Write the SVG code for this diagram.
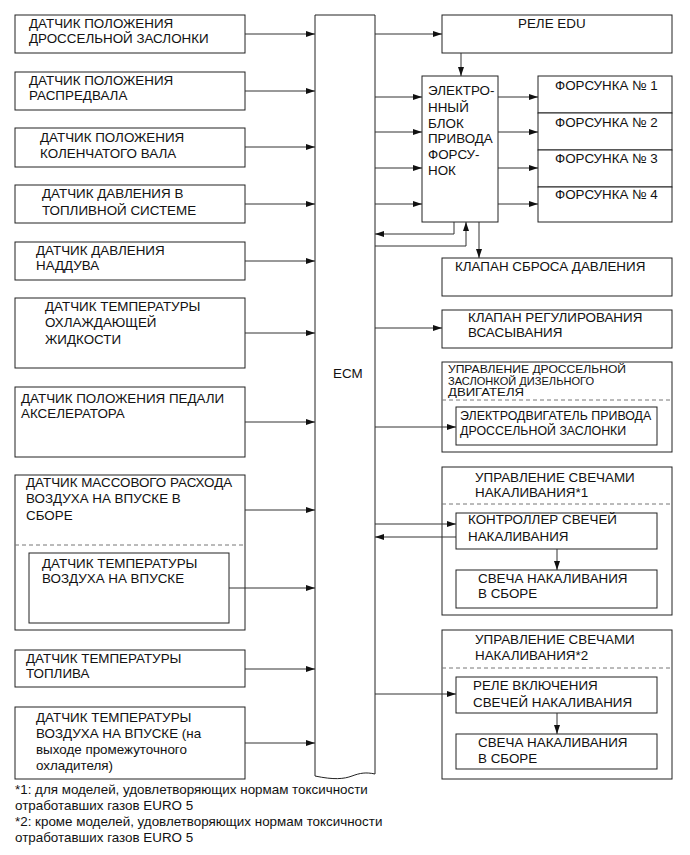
<svg xmlns="http://www.w3.org/2000/svg" width="690" height="855" viewBox="0 0 690 855">
<style>
.b{fill:#fff;stroke:#222;stroke-width:1}
.t{font-family:"Liberation Sans",Arial,sans-serif;font-size:13.4px;fill:#111}
.s{font-family:"Liberation Sans",Arial,sans-serif;font-size:12.4px;fill:#111}
.x{font-family:"Liberation Sans",Arial,sans-serif;font-size:10.5px;fill:#111}
.c{stroke:#333;stroke-width:1;fill:none}
.d{stroke:#777;stroke-width:1;stroke-dasharray:4,3;fill:none}
</style>
<defs>
<marker id="a" markerUnits="userSpaceOnUse" markerWidth="9" markerHeight="7" refX="9" refY="3.5" orient="auto">
<path d="M0,0.5 L9,3.5 L0,6.5 z" fill="#111"/>
</marker>
</defs>
<rect width="690" height="855" fill="#fff"/>

<g id="ecm">
<path class="b" d="M315,15 L375,15 L375,774 C366,772 360,773 352,776 C344,779 334,780 315,776 Z"/>
<text class="t" x="333" y="378">ECM</text>
</g>

<g id="s1"><rect class="b" x="15" y="15" width="230" height="38"/>
<text class="t" x="29" y="28">ДАТЧИК ПОЛОЖЕНИЯ</text><text class="t" x="29" y="43">ДРОССЕЛЬНОЙ ЗАСЛОНКИ</text></g>
<g id="s2"><rect class="b" x="15" y="72" width="230" height="38"/>
<text class="t" x="29" y="85">ДАТЧИК ПОЛОЖЕНИЯ</text><text class="t" x="29" y="100">РАСПРЕДВАЛА</text></g>
<g id="s3"><rect class="b" x="15" y="128" width="230" height="39"/>
<text class="t" x="40" y="142">ДАТЧИК ПОЛОЖЕНИЯ</text><text class="t" x="40" y="158">КОЛЕНЧАТОГО ВАЛА</text></g>
<g id="s4"><rect class="b" x="15" y="185" width="230" height="38"/>
<text class="t" x="42" y="198">ДАТЧИК ДАВЛЕНИЯ В</text><text class="t" x="42" y="215">ТОПЛИВНОЙ СИСТЕМЕ</text></g>
<g id="s5"><rect class="b" x="15" y="242" width="230" height="38"/>
<text class="t" x="36" y="255">ДАТЧИК ДАВЛЕНИЯ</text><text class="t" x="36" y="270">НАДДУВА</text></g>
<g id="s6"><rect class="b" x="15" y="298" width="230" height="70"/>
<text class="t" x="45" y="311">ДАТЧИК ТЕМПЕРАТУРЫ</text><text class="t" x="45" y="327">ОХЛАЖДАЮЩЕЙ</text><text class="t" x="45" y="344">ЖИДКОСТИ</text></g>
<g id="s7"><rect class="b" x="15" y="387" width="230" height="70"/>
<text class="t" x="21" y="403">ДАТЧИК ПОЛОЖЕНИЯ ПЕДАЛИ</text><text class="t" x="21" y="418">АКСЕЛЕРАТОРА</text></g>
<g id="s8"><rect class="b" x="15" y="475" width="230" height="155"/>
<text class="t" x="26" y="487">ДАТЧИК МАССОВОГО РАСХОДА</text><text class="t" x="26" y="503">ВОЗДУХА НА ВПУСКЕ В</text><text class="t" x="26" y="520">СБОРЕ</text>
<line class="d" x1="15" y1="545" x2="245" y2="545"/></g>
<g id="s8i"><rect class="b" x="29" y="553" width="200" height="70"/>
<text class="t" x="42" y="568">ДАТЧИК ТЕМПЕРАТУРЫ</text><text class="t" x="42" y="583">ВОЗДУХА НА ВПУСКЕ</text></g>
<g id="s9"><rect class="b" x="15" y="650" width="230" height="37"/>
<text class="t" x="26" y="663">ДАТЧИК ТЕМПЕРАТУРЫ</text><text class="t" x="26" y="678">ТОПЛИВА</text></g>
<g id="s10"><rect class="b" x="15" y="707" width="230" height="72"/>
<text class="t" x="36" y="722">ДАТЧИК ТЕМПЕРАТУРЫ</text><text class="t" x="36" y="738">ВОЗДУХА НА ВПУСКЕ (на</text><text class="t" x="36" y="754">выходе промежуточного</text><text class="t" x="36" y="770">охладителя)</text></g>

<g id="edu"><rect class="b" x="442" y="15" width="230" height="38"/>
<text class="t" x="518" y="28">РЕЛЕ EDU</text></g>
<g id="edublock"><rect class="b" x="422" y="76" width="76" height="146"/>
<text class="t" x="428" y="95">ЭЛЕКТРО-</text><text class="t" x="428" y="112">ННЫЙ</text><text class="t" x="428" y="128">БЛОК</text><text class="t" x="428" y="143">ПРИВОДА</text><text class="t" x="428" y="159">ФОРСУ-</text><text class="t" x="428" y="175">НОК</text></g>
<g id="inj1"><rect class="b" x="538" y="76" width="134" height="37"/><text class="t" x="555" y="90">ФОРСУНКА № 1</text></g>
<g id="inj2"><rect class="b" x="538" y="113" width="134" height="37"/><text class="t" x="555" y="127">ФОРСУНКА № 2</text></g>
<g id="inj3"><rect class="b" x="538" y="150" width="134" height="37"/><text class="t" x="555" y="163">ФОРСУНКА № 3</text></g>
<g id="inj4"><rect class="b" x="538" y="187" width="134" height="35"/><text class="t" x="555" y="199">ФОРСУНКА № 4</text></g>
<g id="prv"><rect class="b" x="442" y="258" width="230" height="38"/><text class="t" x="455" y="271">КЛАПАН СБРОСА ДАВЛЕНИЯ</text></g>
<g id="scv"><rect class="b" x="442" y="310" width="230" height="38"/>
<text class="t" x="468" y="322">КЛАПАН РЕГУЛИРОВАНИЯ</text><text class="t" x="468" y="337">ВСАСЫВАНИЯ</text></g>
<g id="dtc"><rect class="b" x="442" y="362" width="230" height="90"/>
<text class="x" x="448" y="373" textLength="178" lengthAdjust="spacingAndGlyphs">УПРАВЛЕНИЕ ДРОССЕЛЬНОЙ</text>
<text class="x" x="448" y="384.5" textLength="146" lengthAdjust="spacingAndGlyphs">ЗАСЛОНКОЙ ДИЗЕЛЬНОГО</text>
<text class="x" x="448" y="396" textLength="76" lengthAdjust="spacingAndGlyphs">ДВИГАТЕЛЯ</text>
<line class="d" x1="442" y1="400" x2="672" y2="400"/></g>
<g id="dtm"><rect class="b" x="456" y="407" width="201" height="38"/>
<text class="s" x="460" y="420">ЭЛЕКТРОДВИГАТЕЛЬ ПРИВОДА</text><text class="s" x="460" y="435">ДРОССЕЛЬНОЙ ЗАСЛОНКИ</text></g>
<g id="glow1"><rect class="b" x="442" y="467" width="230" height="148"/>
<text class="t" x="475" y="482">УПРАВЛЕНИЕ СВЕЧАМИ</text><text class="t" x="475" y="497">НАКАЛИВАНИЯ*1</text>
<line class="d" x1="442" y1="504" x2="672" y2="504"/></g>
<g id="gctl"><rect class="b" x="456" y="513" width="201" height="36"/>
<text class="t" x="468" y="524">КОНТРОЛЛЕР СВЕЧЕЙ</text><text class="t" x="468" y="541">НАКАЛИВАНИЯ</text></g>
<g id="gplug1"><rect class="b" x="456" y="570" width="201" height="38"/>
<text class="t" x="478" y="583">СВЕЧА НАКАЛИВАНИЯ</text><text class="t" x="478" y="598">В СБОРЕ</text></g>
<g id="glow2"><rect class="b" x="442" y="630" width="230" height="149"/>
<text class="t" x="475" y="644">УПРАВЛЕНИЕ СВЕЧАМИ</text><text class="t" x="475" y="660">НАКАЛИВАНИЯ*2</text>
<line class="d" x1="442" y1="668" x2="672" y2="668"/></g>
<g id="grel"><rect class="b" x="456" y="677" width="201" height="36"/>
<text class="t" x="473" y="690">РЕЛЕ ВКЛЮЧЕНИЯ</text><text class="t" x="473" y="707">СВЕЧЕЙ НАКАЛИВАНИЯ</text></g>
<g id="gplug2"><rect class="b" x="456" y="734" width="201" height="35"/>
<text class="t" x="478" y="747">СВЕЧА НАКАЛИВАНИЯ</text><text class="t" x="478" y="763">В СБОРЕ</text></g>

<g id="connectors" class="c" marker-end="url(#a)">
<path d="M245,34 H315"/>
<path d="M245,91 H315"/>
<path d="M245,147 H315"/>
<path d="M245,204 H315"/>
<path d="M245,261 H315"/>
<path d="M245,333 H315"/>
<path d="M245,422 H315"/>
<path d="M245,510 H315"/>
<path d="M229,588 H315"/>
<path d="M245,669 H315"/>
<path d="M245,743 H315"/>
<path d="M375,34 H442"/>
<path d="M461,53 V76"/>
<path d="M375,97 H422"/>
<path d="M375,132 H422"/>
<path d="M375,168 H422"/>
<path d="M375,204 H422"/>
<path d="M498,97 H538"/>
<path d="M498,132 H538"/>
<path d="M498,168 H538"/>
<path d="M498,204 H538"/>
<path d="M454,222 V234 H375"/>
<path d="M375,246 H466 V222"/>
<path d="M479,222 V258"/>
<path d="M375,328 H442"/>
<path d="M375,427 H456"/>
<path d="M375,524 H456"/>
<path d="M456,537 H375"/>
<path d="M557,549 V570"/>
<path d="M375,694 H456"/>
<path d="M557,713 V734"/>
</g>

<g id="notes">
<text class="t" x="15" y="794">*1: для моделей, удовлетворяющих нормам токсичности</text>
<text class="t" x="15" y="810">отработавших газов EURO 5</text>
<text class="t" x="15" y="826">*2: кроме моделей, удовлетворяющих нормам токсичности</text>
<text class="t" x="15" y="842">отработавших газов EURO 5</text>
</g>
</svg>
